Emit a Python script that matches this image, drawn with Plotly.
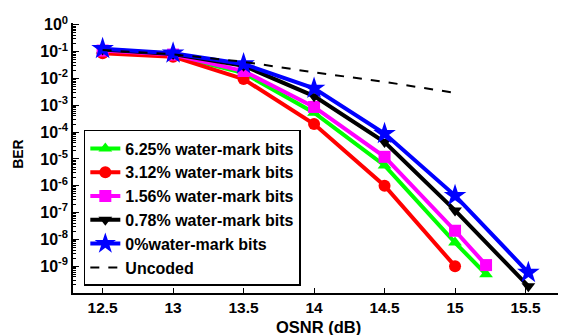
import plotly.graph_objects as go

# ---- data ----
x_625 = [12.5, 13, 13.5, 14, 14.5, 15, 15.22]
y_625 = [0.11, 0.075, 0.016, 5.3e-4, 5.7e-6, 7.6e-9, 5.0e-10]
x_312 = [12.5, 13, 13.5, 14, 14.5, 15]
y_312 = [0.087, 0.065, 0.0095, 2.0e-4, 1.0e-6, 1.0e-9]
x_156 = [12.5, 13, 13.5, 14, 14.5, 15, 15.22]
y_156 = [0.11, 0.078, 0.019, 8.7e-4, 1.2e-5, 2.1e-8, 1.1e-9]
x_078 = [12.5, 13, 13.5, 14, 14.5, 15, 15.52]
y_078 = [0.12, 0.082, 0.030, 2.2e-3, 4.3e-5, 1.2e-7, 1.8e-10]
x_0 = [12.5, 13, 13.5, 14, 14.5, 15, 15.52]
y_0 = [0.13, 0.088, 0.035, 4.3e-3, 8.8e-5, 4.3e-7, 5.8e-10]
x_unc = [12.5, 13, 13.5, 14, 14.5, 15.02]
y_unc = [0.115, 0.08, 0.042, 0.017, 0.0075, 0.0028]

x_ticks = [12.5, 13, 13.5, 14, 14.5, 15, 15.5]
y_exps = [0, -1, -2, -3, -4, -5, -6, -7, -8, -9]

series = [
    ("6.25% water-mark bits", x_625, y_625, "#00ff00", "triangle-up"),
    ("3.12% water-mark bits", x_312, y_312, "#ff0000", "circle"),
    ("1.56% water-mark bits", x_156, y_156, "#ff00ff", "square"),
    ("0.78% water-mark bits", x_078, y_078, "#000000", "triangle-down"),
    ("0%water-mark bits", x_0, y_0, "#0000ff", "star"),
]

FONT = "Arial, Liberation Sans, sans-serif"

fig = go.Figure()
for name, xs, ys, col, sym in series:
    fig.add_trace(go.Scatter(
        x=xs, y=ys, name=name, mode="lines+markers",
        line=dict(color=col, width=4),
        marker=dict(symbol=sym, size=12 if sym != "star" else 17, color=col,
                    line=dict(width=0)),
    ))
fig.add_trace(go.Scatter(
    x=x_unc, y=y_unc, name="Uncoded", mode="lines",
    line=dict(color="black", width=2, dash="dash"),
))

tickvals = [10.0 ** e for e in y_exps]
ticktext = [f"10<sup>{e}</sup>" for e in y_exps]
minor_vals = [m * 10.0 ** e for e in range(-10, 0) for m in range(2, 10)]

# page body has an 8px margin; margins compensate for it
fig.update_layout(
    width=566, height=335,
    margin=dict(l=65, r=9, t=15, b=50, autoexpand=False),
    paper_bgcolor="white", plot_bgcolor="white",
    font=dict(family=FONT, size=16, color="black"),
    showlegend=True,
    legend=dict(
        x=0.022, y=0.026, xanchor="left", yanchor="bottom",
        bgcolor="white", bordercolor="black", borderwidth=1.5,
        font=dict(family=FONT, size=16, color="black", weight="bold"),
        traceorder="normal",
    ),
    xaxis=dict(
        range=[12.29, 15.78], tickvals=x_ticks, automargin=False,
        ticks="inside", ticklen=5, tickwidth=1, tickcolor="black",
        showline=True, linecolor="black", linewidth=1.5,
        showgrid=False, zeroline=False,
        tickfont=dict(family=FONT, size=15.5, weight="bold"),
    ),
    yaxis=dict(
        type="log", range=[-10, 0.07], automargin=False,
        tickmode="array", tickvals=tickvals, ticktext=ticktext,
        ticks="inside", ticklen=6, tickwidth=1, tickcolor="black",
        minor=dict(tickmode="array", tickvals=minor_vals, ticks="inside",
                   ticklen=3, tickwidth=1, tickcolor="black", showgrid=False),
        showline=True, linecolor="black", linewidth=1.5,
        showgrid=False, zeroline=False,
        tickfont=dict(family=FONT, size=16, weight="bold"),
    ),
    annotations=[
        dict(text="OSNR (dB)", xref="paper", yref="paper", x=0.498, y=-0.125,
             xanchor="center", yanchor="middle", showarrow=False,
             font=dict(family=FONT, size=16.5, weight="bold", color="black")),
        dict(text="BER", xref="paper", yref="paper", x=-0.112, y=0.515,
             xanchor="center", yanchor="middle", showarrow=False, textangle=-90,
             font=dict(family=FONT, size=14, weight="bold", color="black")),
    ],
)

fig.write_html("out.html")
